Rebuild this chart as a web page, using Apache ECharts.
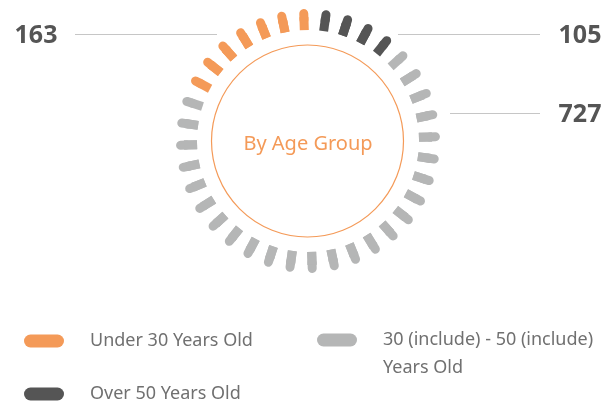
<!DOCTYPE html>
<html>
<head>
<meta charset="utf-8">
<script src="https://cdn.jsdelivr.net/npm/echarts@6/dist/echarts.min.js"></script>
<style>
  html, body { margin: 0; padding: 0; background: #ffffff; }
  #chart { width: 616px; height: 408px; }
</style>
</head>
<body>
<div id="chart"></div>
<script>
// ---- data ----
const categories = ['Under 30 Years Old', 'Over 50 Years Old', '30 (include) - 50 (include) Years Old'];
const values = [163, 105, 727];
const dashCounts = [7, 4, 25];          // dashes drawn per group around the ring
const colors = ['#F49A58', '#555555', '#B5B6B6'];
const centerTitle = 'By Age Group';

// ---- layout ----
const CX = 308, CY = 141;
const FIRST_ANGLE = 151.9;               // math angle of the first dash
const totalDashes = dashCounts.reduce((a, b) => a + b, 0);
const step = 360 / totalDashes;
const labelOffsets = [[-272, -105], [272, -105], [272, -26]];
const FONT = '"Noto Sans", "Open Sans", sans-serif';

const series = [];
let idx = 0;
categories.forEach((name, g) => {
  const start = FIRST_ANGLE - idx * step;
  const end = start - (dashCounts[g] - 1) * step;
  idx += dashCounts[g];
  series.push({
    type: 'gauge',
    name: name,
    center: [CX, CY],
    radius: 132,
    startAngle: start,
    endAngle: end,
    clockwise: true,
    min: 0,
    max: values[g],
    splitNumber: dashCounts[g] - 1,
    axisLine: { show: false, lineStyle: { width: 0 } },
    progress: { show: false },
    pointer: { show: false },
    anchor: { show: false },
    title: { show: false },
    axisLabel: { show: false },
    splitLine: {
      show: true, distance: 4.5, length: 6,
      lineStyle: { color: colors[g], width: 9, cap: 'round' }
    },
    axisTick: {
      show: true, splitNumber: 1, distance: 8, length: 13,
      lineStyle: { color: colors[g], width: 9, cap: 'butt' }
    },
    itemStyle: { color: colors[g] },
    detail: {
      show: true,
      offsetCenter: labelOffsets[g],
      formatter: '{value}',
      color: '#555555',
      fontSize: 25,
      fontWeight: 'bold',
      fontFamily: FONT,
      valueAnimation: false
    },
    data: [{ value: values[g], name: name }]
  });
});

const legendBase = {
  orient: 'horizontal',
  padding: 0,
  itemWidth: 40,
  itemHeight: 13,
  itemGap: 10,
  icon: 'path://M6.5,0 H33.5 A6.5,6.5 0 0 1 33.5,13 H6.5 A6.5,6.5 0 0 1 6.5,0 Z',
  selectedMode: false,
  textStyle: { color: '#707070', fontSize: 18, fontFamily: FONT, lineHeight: 18, padding: [0, 0, 0, 21] }
};

const option = {
  animation: false,
  backgroundColor: '#ffffff',
  legend: [
    Object.assign({}, legendBase, {
      left: 24, top: 332,
      data: [{ name: categories[0], itemStyle: { color: colors[0] } }]
    }),
    Object.assign({}, legendBase, {
      left: 24, top: 385,
      data: [{ name: categories[1], itemStyle: { color: colors[1] } }]
    }),
    Object.assign({}, legendBase, {
      left: 317, top: 298,
      data: [{ name: categories[2], itemStyle: { color: colors[2] } }],
      formatter: function (name) { return '\n' + name; },
      textStyle: Object.assign({}, legendBase.textStyle, {
        width: 230, overflow: 'break', lineHeight: 28
      })
    })
  ],
  graphic: [
    { type: 'circle', shape: { cx: CX - 0.5, cy: CY, r: 96 }, style: { fill: 'none', stroke: colors[0], lineWidth: 1.2 }, silent: true },
    { type: 'text', x: CX, y: CY + 3, style: { text: centerTitle, fill: colors[0], font: '20px ' + FONT, align: 'center', verticalAlign: 'middle' }, silent: true },
    { type: 'line', shape: { x1: 75, y1: 34.5, x2: 217, y2: 34.5 }, style: { stroke: '#C6C6C6', lineWidth: 1 }, silent: true },
    { type: 'line', shape: { x1: 398, y1: 34.5, x2: 540, y2: 34.5 }, style: { stroke: '#C6C6C6', lineWidth: 1 }, silent: true },
    { type: 'line', shape: { x1: 450, y1: 113.5, x2: 540, y2: 113.5 }, style: { stroke: '#C6C6C6', lineWidth: 1 }, silent: true }
  ],
  series: series
};

const chart = echarts.init(document.getElementById('chart'), null, { renderer: 'canvas' });
chart.setOption(option);
</script>
</body>
</html>
